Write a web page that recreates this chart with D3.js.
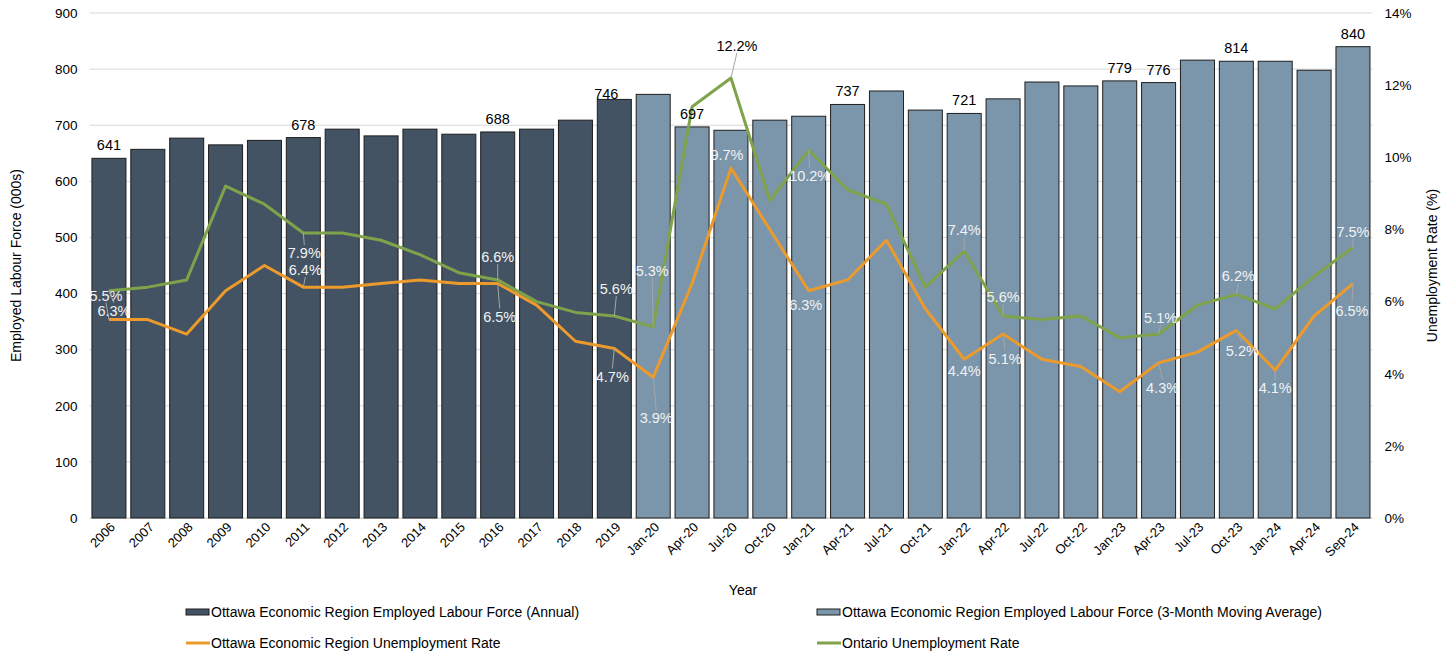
<!DOCTYPE html>
<html>
<head>
<meta charset="utf-8">
<script src="https://cdn.jsdelivr.net/npm/d3@7"></script>
<style>
  body { margin: 0; background: #fff; }
  svg { font-family: "Liberation Sans", Arial, sans-serif; }
</style>
</head>
<body>
<svg id="chart" width="1447" height="655"></svg>
<script>
// ---------- DATA ----------
const categories = ["2006","2007","2008","2009","2010","2011","2012","2013","2014","2015","2016","2017","2018","2019",
  "Jan-20","Apr-20","Jul-20","Oct-20","Jan-21","Apr-21","Jul-21","Oct-21","Jan-22","Apr-22","Jul-22","Oct-22",
  "Jan-23","Apr-23","Jul-23","Oct-23","Jan-24","Apr-24","Sep-24"];
const laborForce = [641,657,677,665,673,678,693,681,693,684,688,693,709,746,
  755,697,691,709,716,737,761,727,721,747,777,770,779,776,816,814,814,798,840];
const ottawaRate = [5.5,5.5,5.1,6.3,7.0,6.4,6.4,6.5,6.6,6.5,6.5,5.9,4.9,4.7,
  3.9,6.5,9.7,8.0,6.3,6.6,7.7,5.8,4.4,5.1,4.4,4.2,3.5,4.3,4.6,5.2,4.1,5.6,6.5];
const ontarioRate = [6.3,6.4,6.6,9.2,8.7,7.9,7.9,7.7,7.3,6.8,6.6,6.0,5.7,5.6,
  5.3,11.4,12.2,8.8,10.2,9.1,8.7,6.4,7.4,5.6,5.5,5.6,5.0,5.1,5.9,6.2,5.8,6.7,7.5];
const annualCount = 14;
const leftTicks = [0,100,200,300,400,500,600,700,800,900];
const rightTicks = [0,2,4,6,8,10,12,14];
const labelledBars = ["2006","2011","2016","2019","Apr-20","Apr-21","Jan-22","Jan-23","Apr-23","Oct-23","Sep-24"];
const seriesNames = ["Ottawa Economic Region Employed Labour Force (Annual)",
  "Ottawa Economic Region Employed Labour Force (3-Month Moving Average)",
  "Ottawa Economic Region Unemployment Rate","Ontario Unemployment Rate"];

// ---------- LABEL PLACEMENT (styling) ----------
const ottawaLabels = [["2006",-3,-24],["2011",2,-17],["2016",2,33],["2019",-2,28],["Jan-20",3,41],["Jul-20",-4,-13],
  ["Jan-21",-3,14],["Jan-22",0,12],["Apr-22",2,25],["Apr-23",4,25],["Oct-23",6,20],["Jan-24",0,18],["Sep-24",-1,27]];
const ontarioLabels = [["2006",5,20],["2011",1,20],["2016",0,-23],["2019",2,-27],["Jan-20",-1,-56],["Jul-20",6,-32],
  ["Jan-21",1,26],["Jan-22",0,-21],["Apr-22",0,-19],["Apr-23",2,-16],["Oct-23",2,-18],["Sep-24",0,-16]];

// ---------- SETUP ----------
const svg = d3.select("#chart");
const pL = 89.5, pR = 1372.4, pT = 13, pB = 518;
const colAnnual = "#435363", colMA = "#7b96ab", colOtt = "#eb9a2b", colOnt = "#7ea34a";

const x = d3.scaleBand().domain(categories).range([pL, pR]).paddingInner(0.125).paddingOuter(0.0625);
const yL = d3.scaleLinear().domain([0, 900]).range([pB, pT]);
const yR = d3.scaleLinear().domain([0, 14]).range([pB, pT]);
const cx = c => x(c) + x.bandwidth() / 2;

// gridlines
svg.append("g").selectAll("line").data(leftTicks).join("line")
  .attr("x1", pL).attr("x2", pR)
  .attr("y1", d => yL(d)).attr("y2", d => yL(d))
  .attr("stroke", "#d9d9d9").attr("stroke-width", 1);

// left axis
const axL = svg.append("g").attr("transform", `translate(${pL},0)`)
  .call(d3.axisLeft(yL).tickValues(leftTicks).tickSize(0).tickPadding(12));
axL.select(".domain").remove();
axL.selectAll("text").attr("font-size", "13.5px").attr("fill", "#000").attr("font-family", "Liberation Sans, Arial");

// right axis
const axR = svg.append("g").attr("transform", `translate(${pR},0)`)
  .call(d3.axisRight(yR).tickValues(rightTicks).tickFormat(d => d + "%").tickSize(0).tickPadding(12));
axR.select(".domain").remove();
axR.selectAll("text").attr("font-size", "13.5px").attr("fill", "#000").attr("font-family", "Liberation Sans, Arial");

// bottom axis
const axB = svg.append("g").attr("transform", `translate(0,${pB})`)
  .call(d3.axisBottom(x).tickSize(0).tickPadding(6));
axB.select(".domain").attr("stroke", "#d9d9d9");
axB.selectAll("text").attr("font-size", "13px").attr("fill", "#000").attr("font-family", "Liberation Sans, Arial")
  .attr("text-anchor", "end").attr("dx", "-2").attr("dy", "0.45em")
  .attr("transform", "rotate(-45)");

// bars
const barData = categories.map((c, i) => ({ c, v: laborForce[i], annual: i < annualCount }));
svg.append("g").selectAll("rect").data(barData).join("rect")
  .attr("x", d => x(d.c)).attr("width", x.bandwidth())
  .attr("y", d => yL(d.v)).attr("height", d => yL(0) - yL(d.v))
  .attr("fill", d => d.annual ? colAnnual : colMA)
  .attr("stroke", "#1e1e1e").attr("stroke-width", 1);

// lines
const line = yS => d3.line().x((d, i) => cx(categories[i])).y(d => yS(d));
svg.append("path").datum(ottawaRate).attr("d", line(yR)).attr("fill", "none")
  .attr("stroke", colOtt).attr("stroke-width", 3).attr("stroke-linejoin", "round");
svg.append("path").datum(ontarioRate).attr("d", line(yR)).attr("fill", "none")
  .attr("stroke", colOnt).attr("stroke-width", 3).attr("stroke-linejoin", "round");

// bar labels
svg.append("g").selectAll("text").data(barData.filter(d => labelledBars.includes(d.c))).join("text")
  .attr("x", d => cx(d.c) + (d.c === "2019" ? -8 : 0))
  .attr("y", d => yL(d.v) - (d.c === "2019" ? 0 : 8))
  .attr("text-anchor", "middle").attr("font-size", "14.5px").attr("fill", "#000")
  .text(d => d.v);

// line labels with leader lines
function addLabels(spec, values, isOnt) {
  const g = svg.append("g");
  spec.forEach(([c, dx, dy]) => {
    const i = categories.indexOf(c);
    const px = cx(c), py = yR(values[i]);
    const lx = px + dx, ly = py + dy;
    const black = isOnt && c === "Jul-20";
    if (Math.abs(dy) > 15) {
      const endY = dy < 0 ? ly + 7 : ly - 8;
      g.append("line").attr("x1", px).attr("y1", py).attr("x2", lx).attr("y2", endY)
        .attr("stroke", "#a6a6a6").attr("stroke-width", 1);
    }
    g.append("text").attr("x", lx).attr("y", ly).attr("dy", "0.35em")
      .attr("text-anchor", "middle").attr("font-size", "14.5px")
      .attr("fill", black ? "#000" : "#f2f2f2")
      .text(values[i].toFixed(1) + "%");
  });
}
addLabels(ottawaLabels, ottawaRate, false);
addLabels(ontarioLabels, ontarioRate, true);

// axis titles
svg.append("text").attr("transform", `translate(21,${(pT + pB) / 2}) rotate(-90)`)
  .attr("text-anchor", "middle").attr("font-size", "14px").text("Employed Labour Force (000s)");
svg.append("text").attr("transform", `translate(1437,${(pT + pB) / 2}) rotate(-90)`)
  .attr("text-anchor", "middle").attr("font-size", "14px").text("Unemployment Rate (%)");
svg.append("text").attr("x", 743).attr("y", 595).attr("text-anchor", "middle")
  .attr("font-size", "14px").text("Year");

// legend
const legendItems = [
  { name: seriesNames[0], type: "rect", color: colAnnual, x: 186, y: 612 },
  { name: seriesNames[1], type: "rect", color: colMA, x: 817, y: 612 },
  { name: seriesNames[2], type: "line", color: colOtt, x: 186, y: 643 },
  { name: seriesNames[3], type: "line", color: colOnt, x: 817, y: 643 }
];
const lg = svg.append("g");
legendItems.forEach(d => {
  if (d.type === "rect") {
    lg.append("rect").attr("x", d.x).attr("y", d.y - 3).attr("width", 23).attr("height", 6)
      .attr("fill", d.color).attr("stroke", "#1e1e1e").attr("stroke-width", 1);
  } else {
    lg.append("line").attr("x1", d.x).attr("x2", d.x + 24).attr("y1", d.y).attr("y2", d.y)
      .attr("stroke", d.color).attr("stroke-width", 3);
  }
  lg.append("text").attr("x", d.x + 25).attr("y", d.y).attr("dy", "0.35em")
    .attr("font-size", "14px").text(d.name);
});
</script>
</body>
</html>
